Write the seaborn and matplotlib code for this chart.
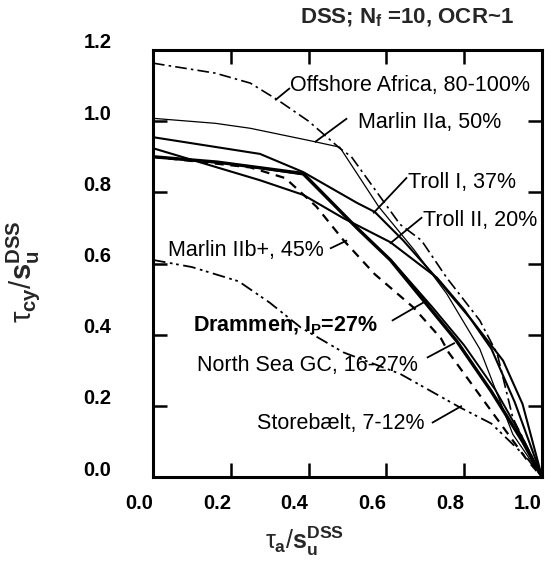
import numpy as np
import pandas as pd
import matplotlib
matplotlib.use("Agg")
import matplotlib.pyplot as plt
from matplotlib.transforms import ScaledTranslation
import seaborn as sns

# ---------------- data ----------------
offshore_x = [0.0, 0.16, 0.25, 0.32, 0.40, 0.48, 0.51, 0.635, 0.69, 0.755, 0.84, 0.885, 0.925, 1.0]
offshore_y = [1.163, 1.135, 1.107, 1.06, 1.0, 0.924, 0.90, 0.71, 0.665, 0.56, 0.44, 0.346, 0.166, 0.0]

marlin2a_x = [0.0, 0.16, 0.25, 0.40, 0.48, 0.58, 0.67, 0.755, 0.84, 0.925, 1.0]
marlin2a_y = [1.008, 0.994, 0.98, 0.946, 0.927, 0.76, 0.64, 0.515, 0.36, 0.12, 0.0]

troll1_x = [0.0, 0.275, 0.386, 0.525, 0.57, 0.643, 0.72, 0.82, 0.90, 0.95, 1.0]
troll1_y = [0.955, 0.908, 0.857, 0.77, 0.745, 0.665, 0.57, 0.44, 0.327, 0.205, 0.0]

troll2_x = [0.0, 0.275, 0.386, 0.49, 0.61, 0.73, 0.80, 0.87, 0.93, 1.0]
troll2_y = [0.924, 0.834, 0.793, 0.727, 0.66, 0.56, 0.47, 0.36, 0.21, 0.0]

drammen_x = [0.0, 0.165, 0.386, 0.524, 0.61, 0.70, 0.78, 0.87, 0.95, 1.0]
drammen_y = [0.90, 0.885, 0.853, 0.70, 0.61, 0.49, 0.383, 0.24, 0.10, 0.0]

northsea_x = [0.0, 0.2, 0.386, 0.52, 0.62, 0.72, 0.80, 0.88, 0.95, 1.0]
northsea_y = [0.90, 0.88, 0.850, 0.705, 0.60, 0.475, 0.37, 0.245, 0.11, 0.0]

marlin2b_x = [0.0, 0.25, 0.34, 0.42, 0.49, 0.57, 0.67, 0.74, 0.76, 0.84, 0.96, 1.0]
marlin2b_y = [0.90, 0.87, 0.84, 0.76, 0.665, 0.57, 0.476, 0.39, 0.35, 0.23, 0.05, 0.0]

storebaelt_x = [0.0, 0.10, 0.22, 0.30, 0.38, 0.49, 0.635, 0.79, 0.87, 0.96, 1.0]
storebaelt_y = [0.61, 0.59, 0.55, 0.49, 0.42, 0.35, 0.29, 0.195, 0.15, 0.055, 0.0]

x_ticks = [0.0, 0.2, 0.4, 0.6, 0.8, 1.0]
y_ticks = [0.0, 0.2, 0.4, 0.6, 0.8, 1.0, 1.2]

# ---------------- style ----------------
sns.set_theme(style="ticks")
plt.rcParams["font.family"] = ["Liberation Sans", "DejaVu Sans"]
plt.rcParams["mathtext.fontset"] = "custom"
plt.rcParams["mathtext.rm"] = "Liberation Sans"
plt.rcParams["mathtext.it"] = "Liberation Sans"
plt.rcParams["mathtext.bf"] = "Liberation Sans:bold"

fig = plt.figure(figsize=(5.45, 5.66), dpi=100)
ax = fig.add_axes([153 / 545, 1 - 477 / 566, 389 / 545, 427 / 566])

series = [
    (offshore_x, offshore_y, dict(lw=1.2, ls=(0, (7, 2.5, 1.5, 2.5)))),
    (marlin2a_x, marlin2a_y, dict(lw=0.9, ls="-")),
    (troll1_x, troll1_y, dict(lw=1.5, ls="-")),
    (troll2_x, troll2_y, dict(lw=1.5, ls="-")),
    (northsea_x, northsea_y, dict(lw=1.4, ls="-")),
    (drammen_x, drammen_y, dict(lw=2.4, ls="-")),
    (marlin2b_x, marlin2b_y, dict(lw=1.6, ls=(0, (4, 3)))),
    (storebaelt_x, storebaelt_y, dict(lw=1.3, ls=(0, (7, 2.5, 1.5, 2, 1.5, 2.5)))),
]
for xs, ys, st in series:
    df = pd.DataFrame({"x": xs, "y": ys})
    sns.lineplot(data=df, x="x", y="y", ax=ax, sort=False, estimator=None,
                 color="black", linewidth=st["lw"], linestyle=st["ls"])

# ---------------- labels with leader lines ----------------
lab_fs = 15.5
labels = [
    ("Offshore Africa, 80-100%", 0.352, 1.100, "normal", [(0.314, 1.059), (0.352, 1.093)]),
    ("Marlin IIa, 50%", 0.527, 0.997, "normal", [(0.416, 0.941), (0.499, 1.008)]),
    ("Troll I, 37%", 0.656, 0.828, "normal", [(0.566, 0.741), (0.653, 0.842)]),
    ("Troll II, 20%", 0.694, 0.720, "normal", [(0.609, 0.656), (0.692, 0.730)]),
    ("Marlin IIb+, 45%", 0.039, 0.637, "normal", [(0.455, 0.642), (0.499, 0.665)]),
    (r"Drammen, $\mathbf{I}_{\mathbf{P}}$=27%", 0.103, 0.425, "bold", [(0.614, 0.439), (0.704, 0.496)]),
    ("North Sea GC, 16-27%", 0.113, 0.313, "normal", [(0.704, 0.335), (0.776, 0.377)]),
    ("Storebælt, 7-12%", 0.267, 0.149, "normal", [(0.717, 0.152), (0.794, 0.200)]),
]
for txt, tx, ty, fw, leader in labels:
    ax.text(tx, ty, txt, fontsize=lab_fs, fontweight=fw, ha="left", va="center",
            color="black", zorder=5)
    lx, ly = zip(*leader)
    ax.plot(lx, ly, color="black", lw=1.3, solid_capstyle="butt")

# ---------------- axes ----------------
ax.set_xlim(0, 1.0)
ax.set_ylim(0, 1.2)
ax.set_xticks(x_ticks)
ax.set_yticks(y_ticks)
ax.set_xticklabels([f"{v:.1f}" for v in x_ticks], fontsize=14.5, fontweight="bold")
ax.set_yticklabels([f"{v:.1f}" for v in y_ticks], fontsize=14.5, fontweight="bold")
ax.tick_params(axis="both", which="major", direction="in", length=10, width=1.8,
               top=True, right=True, colors="black")
ax.tick_params(axis="x", pad=12)
ax.tick_params(axis="y", pad=30)
for lab in ax.get_xticklabels():
    lab.set_transform(lab.get_transform() + ScaledTranslation(-0.14, 0, fig.dpi_scale_trans))
for lab in ax.get_yticklabels():
    lab.set_transform(lab.get_transform() + ScaledTranslation(0, 0.09, fig.dpi_scale_trans))
for side in ["left", "right", "top", "bottom"]:
    ax.spines[side].set_visible(True)
    ax.spines[side].set_linewidth(2.2)
    ax.spines[side].set_color("black")

ax.set_xlabel(r"$\tau_{\mathbf{a}}/\mathbf{s}_{\mathbf{u}}^{\mathbf{DSS}}$", fontsize=18)
ax.xaxis.set_label_coords(0.39, -0.112)
ax.set_ylabel(r"$\tau_{\mathbf{cy}}/\mathbf{s}_{\mathbf{u}}^{\mathbf{DSS}}$", fontsize=21)
ax.yaxis.set_label_coords(-0.285, 0.48)

fig.text(300 / 545, 1 - 18 / 566, r"DSS; $\mathbf{N}_{\mathbf{f}}$ =10, OCR~1",
         fontsize=16, fontweight="bold", ha="left", va="center")

fig.savefig("out.png", dpi=100)
